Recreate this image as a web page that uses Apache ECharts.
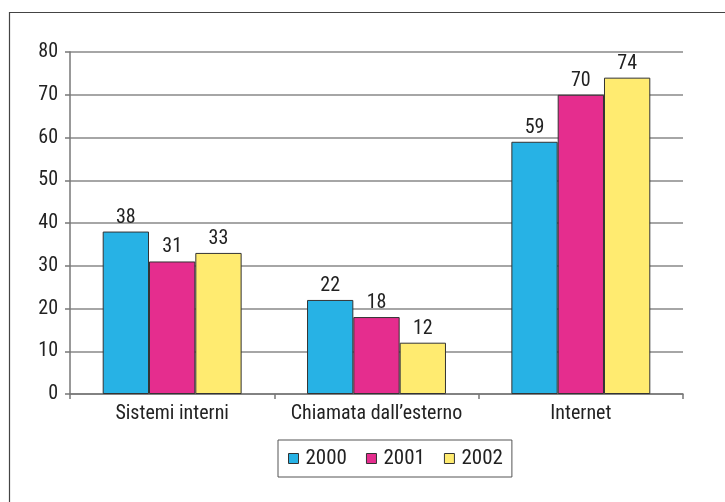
<!DOCTYPE html>
<html><head><meta charset="utf-8">
<script src="https://cdn.jsdelivr.net/npm/echarts@6/dist/echarts.min.js"></script>
<style>html,body{margin:0;padding:0;background:#fff}#c{width:725px;height:502px}</style>
</head><body><div id="c"></div>
<script>
const categories = ['Sistemi interni', "Chiamata dall\u2019esterno", 'Internet'];
const years = ['2000', '2001', '2002'];
const v2000 = [38, 22, 59];
const v2001 = [31, 18, 70];
const v2002 = [33, 12, 74];
const yTicks = [0, 10, 20, 30, 40, 50, 60, 70, 80];

const colors = ['#27B2E5', '#E52D8E', '#FFEB70'];
const FONT = '"Liberation Sans Narrow", "Roboto Condensed", Arial, sans-serif';
const FS = 20;
const chart = echarts.init(document.getElementById('c'), null, {renderer: 'canvas'});
const seriesData = [v2000, v2001, v2002];
chart.setOption({
  animation: false,
  backgroundColor: '#fff',
  graphic: [{
    type: 'rect', left: 7, top: 10, shape: {x: 0, y: 0, width: 800, height: 600},
    style: {fill: 'none', stroke: '#444', lineWidth: 1.2}, silent: true
  }],
  grid: {left: 70, right: 42, top: 52, bottom: 108},
  legend: {
    data: years, left: 278, top: 440,
    itemWidth: 10, itemHeight: 10, itemGap: 19,
    padding: [8, 9, 8, 10],
    borderColor: '#555', borderWidth: 1,
    icon: 'rect',
    textStyle: {fontFamily: FONT, fontSize: 21, color: '#222', padding: [0, 0, 0, 2]},
    itemStyle: {borderColor: '#333', borderWidth: 1}
  },
  xAxis: {
    type: 'category', data: categories,
    axisLine: {lineStyle: {color: '#777', width: 1.5}},
    axisTick: {show: true, alignWithLabel: false, length: 5, lineStyle: {color: '#777', width: 1.5}},
    axisLabel: {interval: 0, fontFamily: FONT, fontSize: FS, color: '#222', margin: 10}
  },
  yAxis: {
    type: 'value', min: 0, max: 80, interval: 10,
    axisLine: {show: true, lineStyle: {color: '#777', width: 1.5}},
    axisTick: {show: true, length: 5, lineStyle: {color: '#777', width: 1.5}},
    axisLabel: {fontFamily: FONT, fontSize: FS, color: '#222', margin: 12,
      formatter: v => yTicks.includes(v) ? String(v) : ''},
    splitLine: {lineStyle: {color: '#888', width: 1.5}}
  },
  series: years.map((y, i) => ({
    name: y, type: 'bar', data: seriesData[i],
    barGap: '0%', barCategoryGap: '32%',
    itemStyle: {color: colors[i], borderColor: '#333', borderWidth: 1},
    label: {show: true, position: 'top', distance: 4, fontFamily: FONT, fontSize: FS, color: '#222'}
  }))
});
</script></body></html>
